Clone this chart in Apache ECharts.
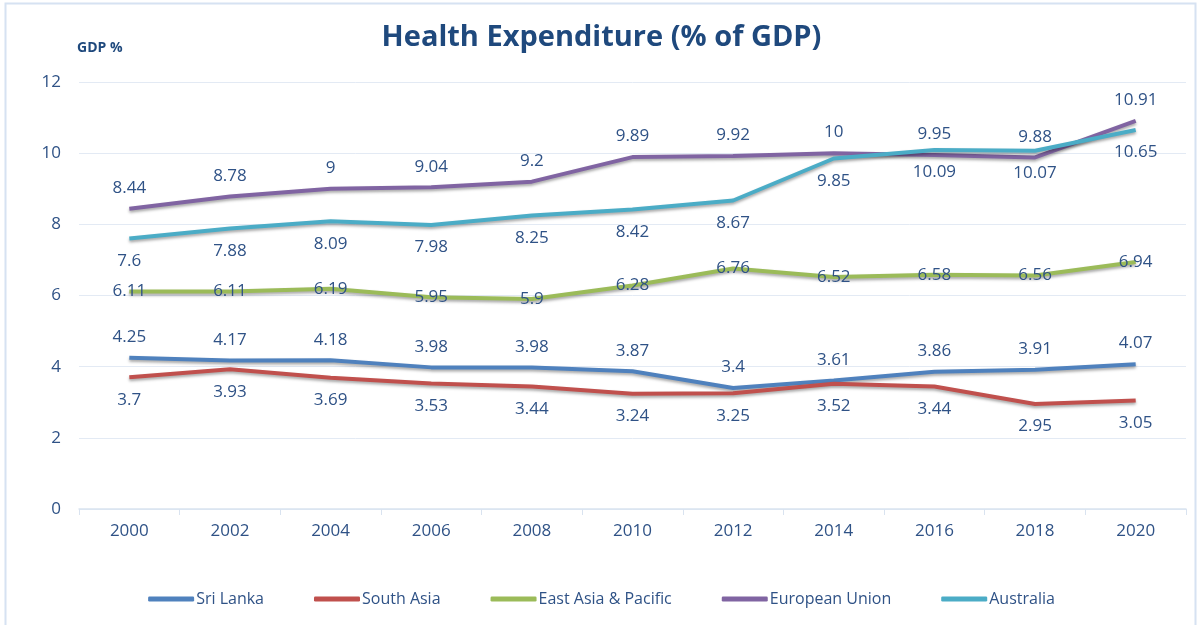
<!DOCTYPE html>
<html>
<head>
<meta charset="utf-8">
<script src="https://cdn.jsdelivr.net/npm/echarts@6/dist/echarts.min.js"></script>
<style>
  html, body { margin: 0; padding: 0; background: #fff; }
  #chart { width: 1203px; height: 625px; }
</style>
</head>
<body>
<div id="chart"></div>
<script>
// Health expenditure as % of GDP, every second year
const years = ['2000', '2002', '2004', '2006', '2008', '2010', '2012', '2014', '2016', '2018', '2020']
const sriLanka = [4.25, 4.17, 4.18, 3.98, 3.98, 3.87, 3.4, 3.61, 3.86, 3.91, 4.07]
const southAsia = [3.7, 3.93, 3.69, 3.53, 3.44, 3.24, 3.25, 3.52, 3.44, 2.95, 3.05]
const eastAsiaPacific = [6.11, 6.11, 6.19, 5.95, 5.9, 6.28, 6.76, 6.52, 6.58, 6.56, 6.94]
const europeanUnion = [8.44, 8.78, 9, 9.04, 9.2, 9.89, 9.92, 10, 9.95, 9.88, 10.91]
const australia = [7.6, 7.88, 8.09, 7.98, 8.25, 8.42, 8.67, 9.85, 10.09, 10.07, 10.65]

const textColor = '#2f5286'
const font = '"Open Sans", "Noto Sans", sans-serif'

function line(name, data, color, pos) {
  const label = { show: true, color: textColor, fontSize: 17, fontFamily: font }
  if (pos === 'top') { label.position = 'top'; label.distance = 12 }
  else if (pos === 'bottom') { label.position = 'bottom'; label.distance = 14 }
  else { label.position = 'inside' }
  return {
    name, type: 'line', data,
    // tiny symbol so the data labels still render
    symbol: 'circle', symbolSize: 0.1, showSymbol: true,
    label,
    lineStyle: {
      width: 4, color,
      shadowColor: 'rgba(0,0,0,0.35)', shadowBlur: 3, shadowOffsetY: 2
    },
    itemStyle: { color }
  }
}

const chart = echarts.init(document.getElementById('chart'))
chart.setOption({
  animation: false,
  title: [
    {
      text: 'Health Expenditure (% of GDP)', left: 'center', top: 18,
      textStyle: { color: '#1f497d', fontSize: 29, fontWeight: 'bold', fontFamily: font }
    },
    {
      text: 'GDP %', left: 72, top: 36,
      textStyle: { color: '#1f497d', fontSize: 14, fontWeight: 'bold', fontFamily: font }
    }
  ],
  graphic: [{
    type: 'rect', shape: { x: 5.5, y: 3.5, width: 1190, height: 640 },
    style: { fill: 'none', stroke: '#d6e2f2', lineWidth: 2 }, silent: true
  }],
  grid: { left: 79, right: 17, top: 82, bottom: 116 },
  legend: {
    bottom: 13, left: 'center', itemGap: 50,
    itemWidth: 46, itemHeight: 5, icon: 'roundRect',
    textStyle: { color: textColor, fontSize: 16, fontFamily: font, padding: [0, 0, 0, -3] },
    data: ['Sri Lanka', 'South Asia', 'East Asia & Pacific', 'European Union', 'Australia']
  },
  xAxis: {
    type: 'category', data: years, boundaryGap: true,
    axisLine: { lineStyle: { color: '#d9e3f0', width: 1.5 } },
    axisTick: { show: true, length: 6, lineStyle: { color: '#d9e3f0' } },
    axisLabel: { color: textColor, fontSize: 17, fontFamily: font, margin: 14 }
  },
  yAxis: {
    type: 'value', min: 0, max: 12, interval: 2,
    axisLine: { show: false }, axisTick: { show: false },
    splitLine: { lineStyle: { color: '#e3eaf4', width: 1 } },
    axisLabel: { color: textColor, fontSize: 17, fontFamily: font, margin: 18 }
  },
  series: [
    line('Sri Lanka', sriLanka, '#4f81bd', 'top'),
    line('South Asia', southAsia, '#c0504d', 'bottom'),
    line('East Asia & Pacific', eastAsiaPacific, '#9bbb59', 'inside'),
    line('European Union', europeanUnion, '#8064a2', 'top'),
    line('Australia', australia, '#4bacc6', 'bottom')
  ]
})
</script>
</body>
</html>
